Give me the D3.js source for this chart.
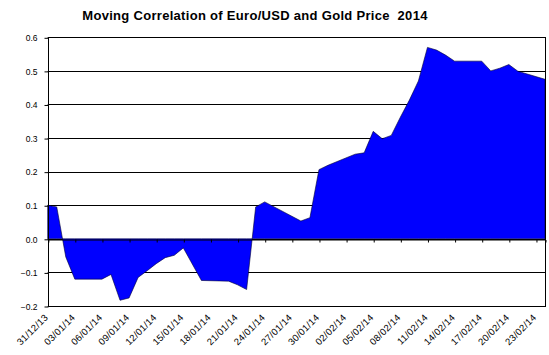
<!DOCTYPE html>
<html>
<head>
<meta charset="utf-8">
<script src="https://cdn.jsdelivr.net/npm/d3@7"></script>
<style>
  html, body { margin: 0; padding: 0; background: #fff; }
  svg { display: block; font-family: "Liberation Sans", Arial, sans-serif; }
</style>
</head>
<body>
<svg id="chart" width="549" height="355"></svg>
<script>
const chartTitle = "Moving Correlation of Euro/USD and Gold Price  2014";

// Vertex dates and correlation values
const dates = [
  "31/12/13","01/01/14","02/01/14","03/01/14","06/01/14","07/01/14","08/01/14","09/01/14",
  "10/01/14","11/01/14","12/01/14","13/01/14","14/01/14","15/01/14","17/01/14","20/01/14",
  "21/01/14","22/01/14","23/01/14","24/01/14","28/01/14","29/01/14","30/01/14","31/01/14",
  "03/02/14","04/02/14","05/02/14","06/02/14","07/02/14","08/02/14","09/02/14","10/02/14",
  "11/02/14","12/02/14","13/02/14","14/02/14","17/02/14","18/02/14","19/02/14","20/02/14",
  "21/02/14","24/02/14"
];
const correlation = [
  0.100, 0.095, -0.054, -0.120, -0.120, -0.106, -0.183, -0.176,
  -0.115, -0.095, -0.074, -0.056, -0.049, -0.027, -0.124, -0.126,
  -0.137, -0.151, 0.095, 0.110, 0.053, 0.063, 0.206, 0.219,
  0.252, 0.256, 0.320, 0.298, 0.308, 0.362, 0.413, 0.470,
  0.570, 0.562, 0.547, 0.529, 0.529, 0.500, 0.508, 0.519,
  0.499, 0.475
];

const xTickLabels = [
  "31/12/13","03/01/14","06/01/14","09/01/14","12/01/14","15/01/14","18/01/14",
  "21/01/14","24/01/14","27/01/14","30/01/14","02/02/14","05/02/14","08/02/14",
  "11/02/14","14/02/14","17/02/14","20/02/14","23/02/14"
];
const yTicks = [-0.2, -0.1, 0.0, 0.1, 0.2, 0.3, 0.4, 0.5, 0.6];
const xDomain = ["31/12/13", "24/02/14"];

const parse = d3.utcParse("%d/%m/%y");
const data = dates.map((d, i) => ({ date: parse(d), value: correlation[i] }));

const svg = d3.select("#chart");
const pLeft = 47.7, pRight = 545, pTop = 37.3, pBottom = 306;

const x = d3.scaleUtc().domain(xDomain.map(parse)).range([pLeft, pRight]);
const y = d3.scaleLinear().domain([-0.2, 0.6]).range([pBottom, pTop]);

// Title
svg.append("text")
  .attr("x", 255).attr("y", 20)
  .attr("text-anchor", "middle")
  .attr("font-size", 13).attr("font-weight", "bold")
  .attr("letter-spacing", 0.3)
  .attr("fill", "#000")
  .style("white-space", "pre")
  .text(chartTitle);

// Gridlines
svg.append("g").selectAll("line").data(yTicks).join("line")
  .attr("x1", pLeft).attr("x2", pRight)
  .attr("y1", d => Math.round(y(d)) + 0.5).attr("y2", d => Math.round(y(d)) + 0.5)
  .attr("stroke", "#000").attr("stroke-width", 1);

// Area
const area = d3.area()
  .x(d => x(d.date))
  .y0(y(0))
  .y1(d => y(d.value));
svg.append("path")
  .datum(data)
  .attr("d", area)
  .attr("fill", "#0000ff")
  .attr("stroke", "#000033")
  .attr("stroke-width", 0.6);

// Plot border
svg.append("rect")
  .attr("x", Math.round(pLeft) + 0.5).attr("y", Math.round(pTop) + 0.5)
  .attr("width", Math.round(pRight) - Math.round(pLeft))
  .attr("height", Math.round(pBottom) - Math.round(pTop))
  .attr("fill", "none").attr("stroke", "#000").attr("stroke-width", 1);

// Y axis
const yAxis = d3.axisLeft(y).tickValues(yTicks).tickFormat(d3.format(".1f")).tickSize(4).tickPadding(7);
const gy = svg.append("g").attr("transform", `translate(${Math.round(pLeft) + 0.5},0.5)`).call(yAxis);
gy.select(".domain").remove();
gy.selectAll("text").attr("font-size", 8.5).attr("font-family", "Liberation Sans, Arial, sans-serif").attr("fill", "#000");
gy.selectAll("line").attr("stroke", "#000");

// X axis at zero
const xAxis = d3.axisBottom(x).tickValues(xTickLabels.map(parse)).tickSize(3).tickFormat("");
const gx = svg.append("g").attr("transform", `translate(0.5,${Math.round(y(0)) + 0.5})`).call(xAxis);
gx.select(".domain").attr("stroke", "#000");
gx.selectAll("line").attr("stroke", "#000");

// X tick labels along bottom, rotated
svg.append("g").selectAll("text").data(xTickLabels).join("text")
  .attr("transform", d => `translate(${x(parse(d)) + 1},${pBottom + 12}) rotate(-45)`)
  .attr("text-anchor", "end")
  .attr("font-size", 9.5)
  .attr("letter-spacing", 0.3)
  .attr("fill", "#000")
  .text(d => d);
</script>
</body>
</html>
